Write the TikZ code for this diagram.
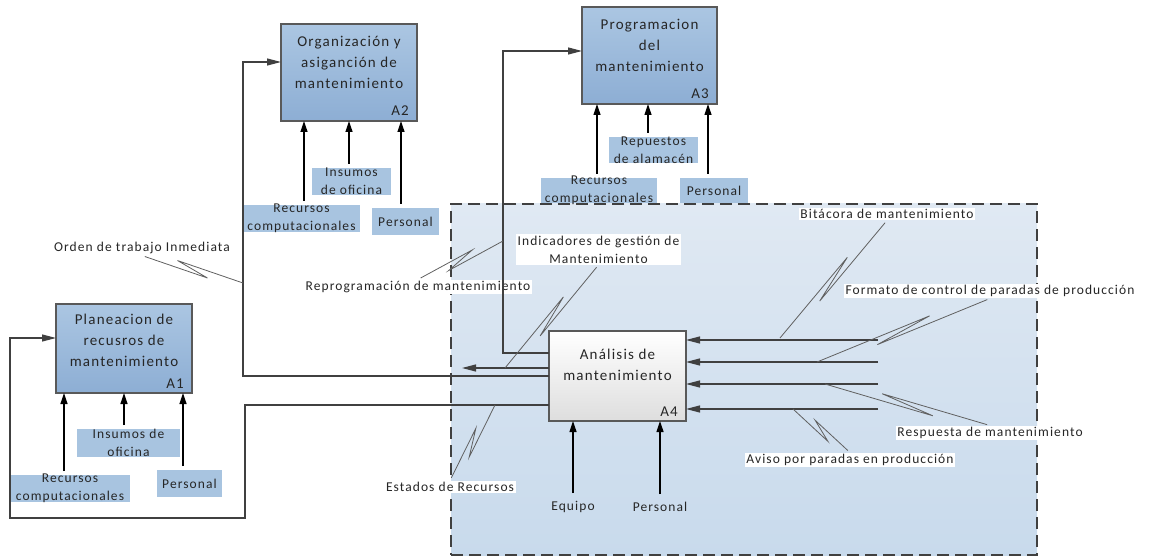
\documentclass[tikz,border=0pt]{standalone}
\usepackage{fontspec}
\setmainfont{Carlito}[LetterSpace=8]
\usetikzlibrary{arrows.meta,calc}
\definecolor{boxtop}{HTML}{ABC6E2}
\definecolor{boxbot}{HTML}{8DAED4}
\definecolor{lblfill}{HTML}{A8C4E0}
\definecolor{frtop}{HTML}{E0E9F3}
\definecolor{frbot}{HTML}{C8DAEC}
\definecolor{edgegray}{HTML}{595959}
\definecolor{flowgray}{HTML}{404040}
\definecolor{squiggray}{HTML}{606060}
\newcommand\lblsize{\fontsize{13.5}{18}\selectfont}
\newcommand\boxsize{\fontsize{15}{21}\selectfont}
% #1 label anchor, #2 target, #3 angle of far kink, #4 angle of near kink
\newcommand\zzline[4]{\draw[squigline] (#1) -- ($(#1)!0.66!(#2)!4.5pt!#3:(#2)$) -- ($(#1)!0.34!(#2)!4.5pt!#4:(#2)$) -- (#2);}
\tikzset{
  actbox/.style={draw=edgegray, line width=1.1pt, top color=boxtop, bottom color=boxbot, inner sep=0pt, outer sep=0pt},
  a4box/.style={draw=edgegray, line width=1.1pt, top color=white, bottom color=black!13, inner sep=0pt, outer sep=0pt},
  boxtxt/.style={font=\boxsize, align=center, inner sep=0pt, text=black!85},
  numtxt/.style={font=\boxsize, anchor=base east, inner sep=0pt, text=black!85},
  lblbox/.style={fill=lblfill, inner sep=0pt, outer sep=0pt},
  lbltxt/.style={font=\lblsize, align=center, inner sep=0pt, text=black!85},
  sqlbl/.style={font=\lblsize, align=center, fill=white, inner sep=1.5pt, text=black!85},
  frame/.style={draw=flowgray, line width=1.2pt, dash pattern=on 12pt off 6pt, top color=frtop, bottom color=frbot, inner sep=0pt, outer sep=0pt},
  ctl/.style={draw=black, line width=1.2pt, -{Triangle[length=11pt,width=7pt]}, shorten <=4pt},
  flowarr/.style={draw=flowgray, line width=1.2pt, -{Triangle[length=14pt,width=7pt]}},
  squigline/.style={draw=squiggray, line width=0.8pt, line join=miter, shorten <=3pt}
}
\begin{document}
\begin{tikzpicture}[x=1pt,y=-1pt]
\useasboundingbox (0,0) rectangle (1149,556);
% frame
\node[frame, minimum width=586, minimum height=351] (frame) at (744,379.5) {};
% activity boxes
\node[actbox, minimum width=136, minimum height=89] (A1) at (124,348.5) {};
\node[boxtxt] (A1t) at ($(A1.center)+(0,-8.5)$) {Planeacion de\\recusros de\\mantenimiento};
\node[numtxt] (A1n) at ($(A1.south east)+(-8,-5)$) {A1};
\node[actbox, minimum width=136, minimum height=97] (A2) at (349,72.5) {};
\node[boxtxt] (A2t) at ($(A2.center)+(0,-10)$) {Organización y\\asiganción de\\mantenimiento};
\node[numtxt] (A2n) at ($(A2.south east)+(-8,-5)$) {A2};
\node[actbox, minimum width=135, minimum height=97] (A3) at (649.5,55.5) {};
\node[boxtxt] (A3t) at ($(A3.center)+(0,-10.5)$) {Programacion\\del\\mantenimiento};
\node[numtxt] (A3n) at ($(A3.south east)+(-8,-5)$) {A3};
\node[a4box, minimum width=137, minimum height=90] (A4) at (617.5,376) {};
\node[boxtxt] (A4t) at ($(A4.center)+(0,-11)$) {Análisis de\\mantenimiento};
\node[numtxt] (A4n) at ($(A4.south east)+(-8,-5)$) {A4};
% control labels A1
\node[lblbox, minimum width=120, minimum height=27] (a1rc) at (70,488.5) {};
\node[lbltxt] (a1rct) at (a1rc) {Recursos\\computacionales};
\node[lblbox, minimum width=103, minimum height=28] (a1in) at (128.5,443) {};
\node[lbltxt] (a1int) at (a1in) {Insumos de\\oficina};
\node[lblbox, minimum width=65, minimum height=27] (a1pe) at (189.5,483.5) {};
\node[lbltxt] (a1pet) at (a1pe) {Personal};
% control labels A2
\node[lblbox, minimum width=79, minimum height=27] (a2in) at (351.5,181.5) {};
\node[lbltxt] (a2int) at (a2in) {Insumos\\de oficina};
\node[lblbox, minimum width=117, minimum height=27] (a2rc) at (301.5,218.5) {};
\node[lbltxt] (a2rct) at (a2rc) {Recursos\\computacionales};
\node[lblbox, minimum width=67, minimum height=27] (a2pe) at (405.5,221.5) {};
\node[lbltxt] (a2pet) at (a2pe) {Personal};
% control labels A3
\node[lblbox, minimum width=89, minimum height=26] (a3rp) at (653.5,150) {};
\node[lbltxt] (a3rpt) at (a3rp) {Repuestos\\de alamacén};
\node[lblbox, minimum width=116, minimum height=25] (a3rc) at (599,190.5) {};
\node[lbltxt] (a3rct) at (a3rc) {Recursos\\computacionales};
\node[lblbox, minimum width=68, minimum height=25] (a3pe) at (714,190.5) {};
\node[lbltxt] (a3pet) at (a3pe) {Personal};
% A4 mechanisms
\node[lbltxt] (eq) at (573,507) {Equipo};
\node[lbltxt] (a4pe) at (660,507) {Personal};
% squiggle labels
\node[sqlbl] (orden) at (142,248) {Orden de trabajo Inmediata};
\node[sqlbl] (reprog) at (418,287) {Reprogramación de mantenimiento};
\node[sqlbl] (indic) at (598.5,249.5) {Indicadores de gestión de\\Mantenimiento};
\node[sqlbl] (estados) at (450,487) {Estados de Recursos};
\node[sqlbl] (bitac) at (887,214) {Bitácora de mantenimiento};
\node[sqlbl] (formato) at (990,291) {Formato de control de paradas de producción};
\node[sqlbl] (resp) at (990,433) {Respuesta de mantenimiento};
\node[sqlbl] (aviso) at (850,460) {Aviso por paradas en producción};
% coordinates
\coordinate (c3) at (503,51);
\coordinate (ind) at (462,368);
\coordinate (c2) at (243,62);
\coordinate (c1a) at (245,518);
\coordinate (c1b) at (10,338);
\coordinate (in1) at (878,340);
\coordinate (in2) at (878,362);
\coordinate (in3) at (878,384);
\coordinate (in4) at (878,409);
\coordinate (qOrden) at (243,283);
\coordinate (qReprog) at (503,241);
\coordinate (qIndic) at (505,368);
\coordinate (qEstados) at (495,405);
\coordinate (qBitac) at (780,338);
\coordinate (qFormato) at (817,362);
\coordinate (qResp) at (825,384);
\coordinate (qAviso) at (793,409);
% flows out of A4
\draw[flowarr] (A4.west |- 0,353) -| (c3) -- (c3 -| A3.west);
\draw[flowarr] (A4.west |- ind) -- (ind);
\draw[flowarr] (A4.west |- 0,376) -| (c2) -- (c2 -| A2.west);
\draw[flowarr] (A4.west |- 0,405) -| (c1a) -| (c1b) -- (c1b -| A1.west);
% inputs to A4
\draw[flowarr] (in1) -- (in1 -| A4.east);
\draw[flowarr] (in2) -- (in2 -| A4.east);
\draw[flowarr] (in3) -- (in3 -| A4.east);
\draw[flowarr] (in4) -- (in4 -| A4.east);
% controls
\draw[ctl] (a1rc.north -| 64,0) -- (A1.south -| 64,0);
\draw[ctl] (a1in.north -| 124,0) -- (A1.south -| 124,0);
\draw[ctl] (a1pe.north -| 183,0) -- (A1.south -| 183,0);
\draw[ctl] (a2rc.north -| 304,0) -- (A2.south -| 304,0);
\draw[ctl] (a2in.north -| 349,0) -- (A2.south -| 349,0);
\draw[ctl] (a2pe.north -| 401,0) -- (A2.south -| 401,0);
\draw[ctl] (a3rc.north -| 597,0) -- (A3.south -| 597,0);
\draw[ctl] (a3rp.north -| 648,0) -- (A3.south -| 648,0);
\draw[ctl] (a3pe.north -| 708,0) -- (A3.south -| 708,0);
\draw[ctl, shorten <=8pt] (eq.north) -- (eq.north |- A4.south);
\draw[ctl, shorten <=8pt] (a4pe.north) -- (a4pe.north |- A4.south);
% squiggles
\zzline{orden.south}{qOrden}{270}{90}
\zzline{reprog.north}{qReprog}{90}{270}
\zzline{indic.south}{qIndic}{90}{270}
\zzline{estados.north}{qEstados}{90}{270}
\zzline{bitac.south}{qBitac}{90}{270}
\zzline{formato.south}{qFormato}{90}{270}
\zzline{resp.north}{qResp}{270}{90}
\zzline{aviso.north}{qAviso}{270}{90}
\end{tikzpicture}
\end{document}
